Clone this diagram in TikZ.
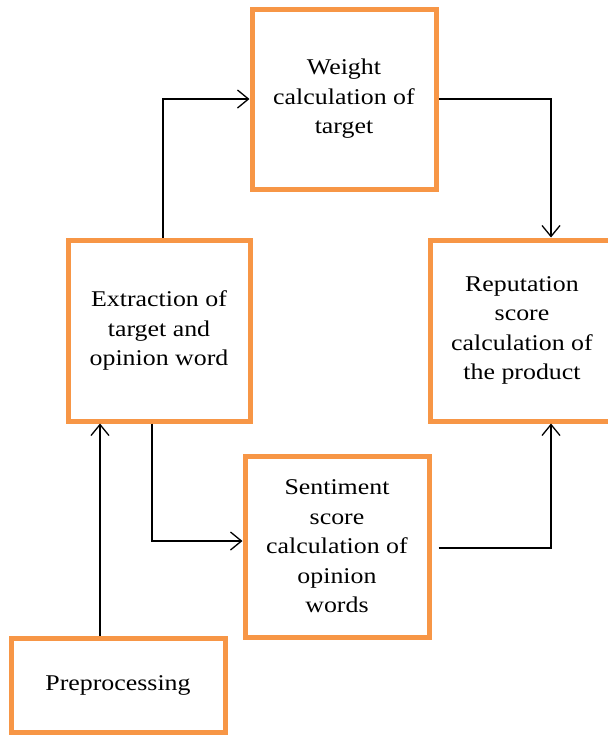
\documentclass[tikz,border=0pt]{standalone}
\usepackage{fontspec}
\setmainfont{Liberation Serif}[FakeStretch=1.15]
\usetikzlibrary{arrows.meta,calc}
\definecolor{boxorange}{HTML}{F79646}
\tikzset{
  stage/.style={draw=boxorange, line width=5pt, fill=white, align=center,
    inner sep=0pt, font=\fontsize{22.5}{29.5}\selectfont},
  arr/.style={draw=black, line width=1.3pt, -{Straight Barb[length=11pt,width=18pt,line width=1.3pt]}},
  link/.style={draw=black, line width=1.3pt}
}
\begin{document}
\begin{tikzpicture}[x=1pt,y=1pt]
\useasboundingbox (0,0) rectangle (608,-737);
\clip (0,0) rectangle (608,-737);
\fill[white] (0,0) rectangle (608,-737);
\node[stage, minimum width=184pt, minimum height=180pt] (w) at (344,-99) {Weight\\calculation of\\target};
\node[stage, minimum width=182pt, minimum height=181pt] (e) at (159,-330.5) {Extraction of\\target and\\opinion word};
\node[stage, minimum width=184pt, minimum height=181pt] (r) at (522,-330.5) {Reputation\\score\\calculation of\\the product};
\node[stage, minimum width=184pt, minimum height=181pt] (s) at (337,-546.5) {Sentiment\\score\\calculation of\\opinion\\words};
\node[stage, minimum width=214pt, minimum height=94pt] (p) at (118,-685) {Preprocessing};
\coordinate (rx) at (551,0);
% Extraction -> Weight
\draw[arr] ($(e.north)+(4,0)$) |- (w.west);
% Weight -> Reputation
\draw[arr] (w.east) -| (rx |- r.north);
% Preprocessing -> Extraction
\draw[arr] ($(p.north)+(-18,0)$) -- ($(e.south)+(-59,0)$);
% Extraction -> Sentiment
\draw[arr] ($(e.south)+(-7,0)$) |- ($(s.west)+(0,5.5)$);
% Sentiment -> Reputation
\draw[arr] ($(s.east)+(7,-1.5)$) -| (rx |- r.south);
\end{tikzpicture}
\end{document}
